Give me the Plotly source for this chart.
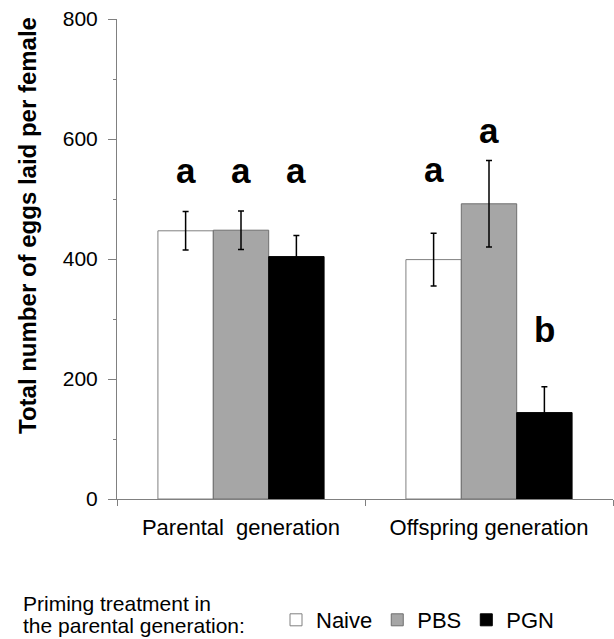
import plotly.graph_objects as go

categories = ["Parental\u00a0 generation", "Offspring generation"]
treatments = ["Naive", "PBS", "PGN"]
means = {
    "Naive": [447, 399],
    "PBS": [448, 492],
    "PGN": [404, 144],
}
errors = {
    "Naive": [32, 44],
    "PBS": [32, 72],
    "PGN": [35, 43],
}
letters = {
    "Naive": ["a", "a"],
    "PBS": ["a", "a"],
    "PGN": ["a", "b"],
}
letter_y = {
    "Naive": [525, 527],
    "PBS": [525, 592],
    "PGN": [525, 260],
}
y_ticks = [0, 200, 400, 600, 800]
y_title = "Total number of eggs laid per female"
legend_title_lines = ["Priming treatment in", "the parental generation:"]

fill = {"Naive": "#FFFFFF", "PBS": "#A6A6A6", "PGN": "#000000"}
line_col = {"Naive": "#808080", "PBS": "#6E6E6E", "PGN": "#000000"}

W, H = 614, 639
ML, MR, MT, MB = 117, 1, 19, 140
BARGAP = 0.33
plot_w = W - ML - MR
plot_h = H - MT - MB
cat_px = plot_w / len(categories)
bar_px = cat_px * (1 - BARGAP) / len(treatments)


def px_x(px):
    return (px - ML) / plot_w


def px_y(py):
    return (H - MB - py) / plot_h


fig = go.Figure()
for t in treatments:
    fig.add_trace(go.Bar(
        name=t,
        x=categories,
        y=means[t],
        marker=dict(color=fill[t], line=dict(color=line_col[t], width=1)),
        error_y=dict(type="data", array=errors[t], visible=True,
                     color="#000000", thickness=1.5, width=3),
    ))

font_family = "Liberation Sans, Arial, sans-serif"
annotations = []
for i, t in enumerate(treatments):
    for j, c in enumerate(categories):
        annotations.append(dict(
            x=c, y=letter_y[t][j], xref="x", yref="y",
            text="<b>%s</b>" % letters[t][j], showarrow=False,
            xshift=(i - 1) * bar_px, yanchor="bottom", yshift=-8,
            font=dict(size=35, color="#000000", family=font_family),
        ))

# y-axis title
annotations.append(dict(
    x=px_x(27), y=px_y(226), xref="paper", yref="paper",
    text="<b>%s</b>" % y_title, textangle=-90, showarrow=False,
    xanchor="center", yanchor="middle",
    font=dict(size=24, color="#000000", family=font_family),
))

# legend title (two lines)
for k, (line, base) in enumerate(zip(legend_title_lines, [612, 634])):
    annotations.append(dict(
        x=px_x(21), y=px_y(base - 9), xref="paper", yref="paper",
        text=line, showarrow=False, xanchor="left", yanchor="middle",
        align="left",
        font=dict(size=21, color="#000000", family=font_family),
    ))

fig.update_layout(
    width=W, height=H,
    margin=dict(l=ML, r=MR, t=MT, b=MB, pad=0, autoexpand=False),
    paper_bgcolor="white", plot_bgcolor="white",
    barmode="group", bargap=BARGAP, bargroupgap=0,
    font=dict(family=font_family, color="#000000", size=21),
    showlegend=True,
    legend=dict(
        orientation="h",
        x=px_x(276), xanchor="left",
        y=px_y(620), yanchor="middle",
        font=dict(size=22, color="#000000", family=font_family),
        itemwidth=30, tracegroupgap=0,
        bgcolor="rgba(0,0,0,0)",
    ),
    annotations=annotations,
    xaxis=dict(
        type="category", showline=True, linecolor="#808080", linewidth=1,
        ticks="outside", tickson="boundaries", ticklen=6, tickcolor="#808080",
        showgrid=False, zeroline=False, automargin=False,
        tickfont=dict(size=22, color="#000000", family=font_family),
        ticklabelstandoff=9,
    ),
    yaxis=dict(
        range=[0, 800], tickvals=y_ticks, showline=True, linecolor="#808080",
        linewidth=1, ticks="outside", ticklen=8, tickcolor="#808080",
        showgrid=False, zeroline=False, automargin=False,
        tickfont=dict(size=21, color="#000000", family=font_family),
        ticklabelstandoff=6,
        minor=dict(dtick=100, ticks="outside", ticklen=3, tickcolor="#808080"),
    ),
)

fig.write_html("out.html")
